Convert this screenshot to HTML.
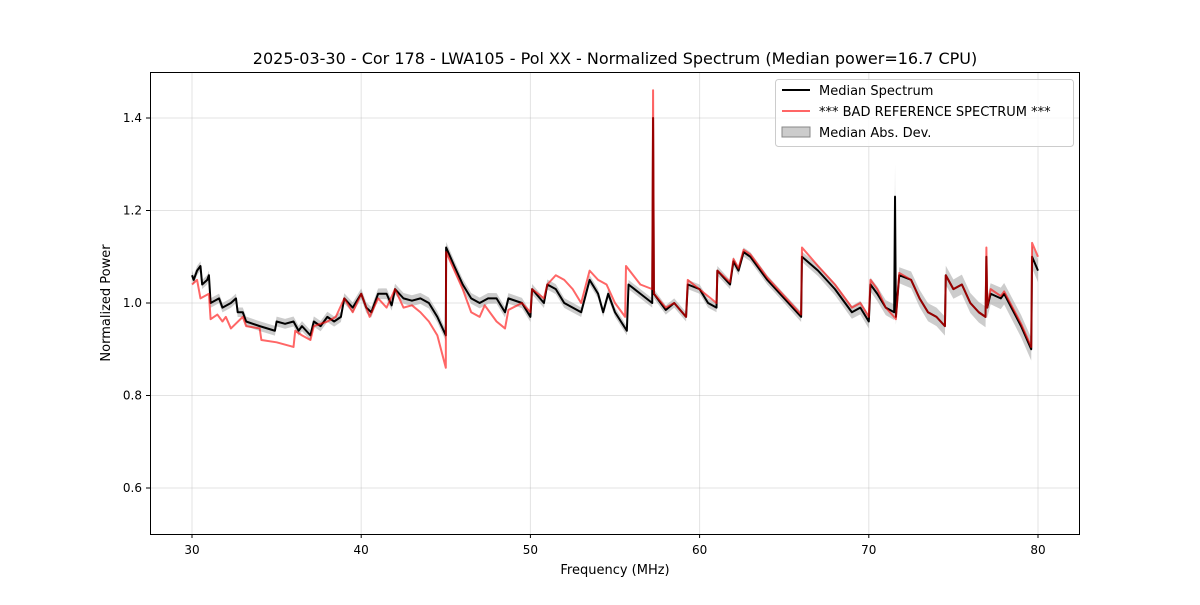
<!DOCTYPE html>
<html><head><meta charset="utf-8"><style>
body{margin:0;background:#fff;}
svg text{font-family:"DejaVu Sans","Liberation Sans",sans-serif;}
</style></head><body>
<svg id="chart" width="1200" height="600">
<rect width="1200" height="600" fill="#fff"/>
<text x="615" y="64" text-anchor="middle" font-size="16">2025-03-30 - Cor 178 - LWA105 - Pol XX - Normalized Spectrum (Median power=16.7 CPU)</text>
<g id="grid"></g>
<g id="band"></g>
<g id="lines"></g>
<rect x="150.5" y="72.5" width="929" height="462" fill="none" stroke="#000" stroke-width="1"/>
<g id="ticks"></g>
<text x="615" y="574" text-anchor="middle" font-size="13">Frequency (MHz)</text>
<text transform="translate(110,303) rotate(-90)" text-anchor="middle" font-size="13">Normalized Power</text>
<g>
<rect x="775.5" y="79.5" width="298" height="67" rx="3" fill="#fff" fill-opacity="0.8" stroke="#ccc"/>
<line x1="782" y1="90" x2="810" y2="90" stroke="#000" stroke-width="2"/>
<text x="819" y="95" font-size="13">Median Spectrum</text>
<line x1="782" y1="111" x2="810" y2="111" stroke="#ff0000" stroke-opacity="0.6" stroke-width="2"/>
<text x="819" y="116" font-size="13">*** BAD REFERENCE SPECTRUM ***</text>
<rect x="782" y="127" width="28" height="10" fill="#999" fill-opacity="0.5" stroke="#888"/>
<text x="819" y="137" font-size="13">Median Abs. Dev.</text>
</g>
</svg>
<script>
const xTicks=[30,40,50,60,70,80];
const yTicks=[0.6,0.8,1.0,1.2,1.4];
const medFreq=[30.0,30.1,30.3,30.5,30.6,30.9,31.0,31.1,31.6,31.8,32.3,32.6,32.7,33.0,33.2,34.0,34.9,35.0,35.5,36.0,36.3,36.5,37.0,37.2,37.6,38.0,38.4,38.8,39.0,39.5,40.0,40.3,40.6,41.0,41.5,41.8,42.0,42.5,43.0,43.5,44.0,44.5,45.0,45.02,45.5,46.0,46.5,47.0,47.5,48.0,48.5,48.7,49.5,50.0,50.1,50.8,51.0,51.5,52.0,52.5,53.0,53.5,54.0,54.3,54.6,55.0,55.7,55.8,56.5,57.2,57.25,57.3,58.0,58.5,59.2,59.3,60.0,60.5,61.0,61.05,61.8,62.0,62.3,62.6,63.0,64.0,65.0,66.0,66.05,67.0,68.0,69.0,69.5,70.0,70.1,70.5,71.0,71.5,71.55,71.6,71.8,72.5,73.0,73.5,74.0,74.5,74.55,75.0,75.5,76.0,76.5,76.9,76.95,77.0,77.2,77.8,78.0,79.0,79.6,79.65,80.0];
const medVal=[1.06,1.05,1.07,1.08,1.04,1.05,1.06,1.00,1.01,0.99,1.00,1.01,0.98,0.98,0.96,0.95,0.94,0.96,0.955,0.96,0.94,0.95,0.93,0.96,0.95,0.97,0.96,0.97,1.01,0.99,1.02,0.99,0.98,1.02,1.02,0.995,1.03,1.01,1.005,1.01,1.0,0.97,0.93,1.12,1.08,1.04,1.01,1.00,1.01,1.01,0.98,1.01,1.0,0.97,1.03,1.00,1.04,1.03,1.0,0.99,0.98,1.05,1.02,0.98,1.02,0.98,0.94,1.04,1.02,1.00,1.40,1.02,0.985,1.00,0.97,1.04,1.03,1.00,0.99,1.07,1.04,1.09,1.07,1.11,1.10,1.05,1.01,0.97,1.10,1.07,1.03,0.98,0.99,0.96,1.04,1.02,0.99,0.98,1.23,0.97,1.06,1.05,1.01,0.98,0.97,0.95,1.06,1.03,1.04,1.00,0.98,0.97,1.10,0.99,1.02,1.01,1.02,0.95,0.90,1.10,1.07];
const refFreq=[30.0,30.3,30.5,31.0,31.1,31.5,31.8,32.0,32.3,33.0,33.2,34.0,34.1,35.0,36.0,36.1,36.5,37.0,37.2,38.0,38.5,39.0,39.5,40.0,40.5,41.0,41.5,42.0,42.5,43.0,43.5,44.0,44.5,45.0,45.02,46.0,46.5,47.0,47.3,48.0,48.5,48.7,49.5,50.0,50.1,50.8,51.0,51.5,52.0,52.5,53.0,53.5,54.0,54.5,55.0,55.6,55.65,56.5,57.2,57.25,57.3,58.0,58.5,59.2,59.3,61.0,61.05,61.8,62.0,62.3,62.6,63.0,64.0,65.0,66.0,66.05,67.0,68.0,69.0,69.5,70.0,70.1,70.5,71.0,71.5,71.6,71.8,72.5,73.0,73.5,74.0,74.5,74.55,75.0,75.5,76.0,76.5,76.9,76.95,77.0,77.2,77.8,78.0,79.0,79.6,79.65,80.0];
const refVal=[1.04,1.05,1.01,1.02,0.965,0.975,0.96,0.97,0.945,0.97,0.95,0.945,0.92,0.915,0.905,0.94,0.93,0.92,0.95,0.96,0.97,1.01,0.98,1.02,0.97,1.01,0.99,1.03,0.99,0.995,0.98,0.96,0.93,0.86,1.11,1.03,0.98,0.97,0.995,0.96,0.945,0.985,1.0,0.98,1.03,1.01,1.04,1.06,1.05,1.03,1.0,1.07,1.05,1.04,1.0,0.97,1.08,1.04,1.03,1.46,1.02,0.99,1.0,0.97,1.05,1.0,1.07,1.045,1.095,1.075,1.115,1.105,1.055,1.015,0.975,1.12,1.08,1.04,0.99,1.0,0.97,1.05,1.03,0.99,0.97,0.965,1.065,1.05,1.01,0.98,0.97,0.95,1.06,1.03,1.04,1.0,0.98,0.97,1.12,0.99,1.03,1.015,1.025,0.955,0.905,1.13,1.10];
const madFreq=[30,45,55,65,70,74,80];
const madVal=[0.01,0.012,0.01,0.01,0.015,0.02,0.025];
const X=f=>192+(f-30)*16.92, Y=v=>118-(v-1.4)*462.5;
const NS='http://www.w3.org/2000/svg';
function mk(tag,attrs,parent){const e=document.createElementNS(NS,tag);for(const k in attrs)e.setAttribute(k,attrs[k]);document.getElementById(parent).appendChild(e);return e;}
xTicks.forEach(t=>{const x=X(t);
const g=mk('line',{x1:x,x2:x,y1:73,y2:534,stroke:'#b0b0b0','stroke-opacity':0.35},'grid');


mk('line',{x1:x,x2:x,y1:534,y2:538,stroke:'#000'},'ticks');
const l=mk('text',{x:x,y:554,'text-anchor':'middle','font-size':12},'ticks');l.textContent=t;

});
yTicks.forEach(t=>{const y=Y(t);
const g=mk('line',{x1:151,x2:1079,y1:y,y2:y,stroke:'#b0b0b0','stroke-opacity':0.35},'grid');


mk('line',{x1:146,x2:150,y1:y,y2:y,stroke:'#000'},'ticks');
const l=mk('text',{x:142,y:y+4,'text-anchor':'end','font-size':12},'ticks');l.textContent=t.toFixed(1);

});
function madAt(f){for(let i=1;i<madFreq.length;i++)if(f<=madFreq[i]){const a=(f-madFreq[i-1])/(madFreq[i]-madFreq[i-1]);return madVal[i-1]+a*(madVal[i]-madVal[i-1]);}return madVal[madVal.length-1];}
let up=[],dn=[];
medFreq.forEach((f,i)=>{let m=madAt(f);if(medVal[i]>1.2)m=0.07;up.push(X(f)+','+Y(medVal[i]+m));dn.unshift(X(f)+','+Y(medVal[i]-m));});
const band=mk('polygon',{points:up.concat(dn).join(' '),fill:'#999','fill-opacity':0.5},'band');


const med=mk('polyline',{points:medFreq.map((f,i)=>X(f)+','+Y(medVal[i])).join(' '),fill:'none',stroke:'#000','stroke-width':2,'stroke-linejoin':'round'},'lines');


const ref=mk('polyline',{points:refFreq.map((f,i)=>X(f)+','+Y(refVal[i])).join(' '),fill:'none',stroke:'#ff0000','stroke-opacity':0.6,'stroke-width':2,'stroke-linejoin':'round'},'lines');


</script>
</body></html>
